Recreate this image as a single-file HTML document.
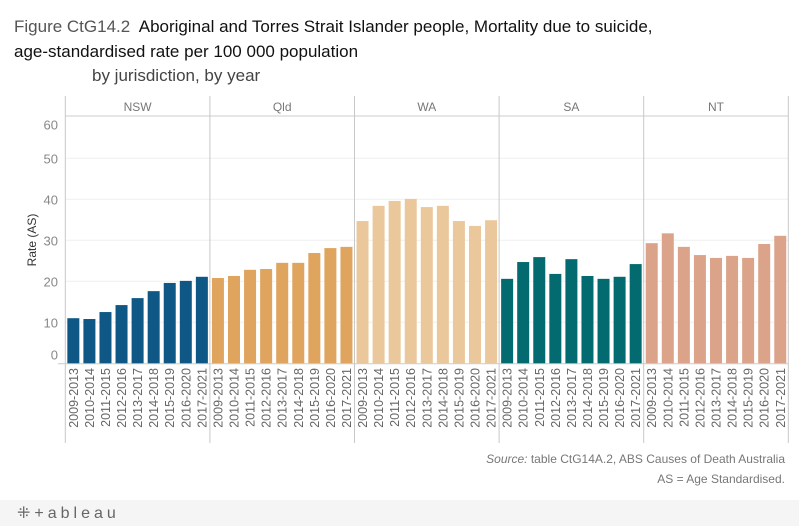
<!DOCTYPE html>
<html><head><meta charset="utf-8"><style>
body{margin:0;background:#fff;font-family:"Liberation Sans",sans-serif;}
#wrap{position:relative;width:799px;height:526px;overflow:hidden;}
.t{position:absolute;white-space:nowrap;}
</style></head><body>
<div id="wrap">
<div class="t" style="left:14px;top:17px;font-size:17px;color:#222;"><span style="color:#555">Figure CtG14.2</span>&nbsp; <span style="color:#111">Aboriginal and Torres Strait Islander people, Mortality due to suicide,</span></div>
<div class="t" style="left:14px;top:42px;font-size:17px;color:#111;">age-standardised rate per 100 000 population</div>
<div class="t" style="left:92px;top:66px;font-size:17px;color:#444;">by jurisdiction, by year</div>
<svg id="chart" width="799" height="526" style="position:absolute;left:0;top:0"></svg>
<div class="t" style="right:14px;top:452px;font-size:12px;color:#777;"><i>Source:</i> table CtG14A.2, ABS Causes of Death Australia</div>
<div class="t" style="right:14px;top:472px;font-size:12px;color:#777;">AS = Age Standardised.</div>
<div style="position:absolute;left:0;top:500px;width:799px;height:26px;background:#f5f5f5;"></div>
<div class="t" style="left:17px;top:503px;font-size:16px;color:#666;letter-spacing:4px;">⁜+ableau</div>
</div>
<script>
const jurisdictions=["NSW","Qld","WA","SA","NT"];
const years=["2009-2013","2010-2014","2011-2015","2012-2016","2013-2017","2014-2018","2015-2019","2016-2020","2017-2021"];
const nswValues=[11.0,10.8,12.5,14.2,15.9,17.6,19.6,20.1,21.1];
const qldValues=[20.8,21.3,22.8,23.0,24.5,24.5,26.9,28.1,28.4];
const waValues=[34.7,38.4,39.6,40.1,38.1,38.4,34.7,33.5,34.9];
const saValues=[20.6,24.7,25.9,21.8,25.4,21.3,20.6,21.1,24.2];
const ntValues=[29.3,31.7,28.4,26.4,25.7,26.2,25.7,29.1,31.1];
const yTicks=[0,10,20,30,40,50,60];
const colors=["#0f5886","#dfa45e","#ebc89c","#036b6f","#dba48a"];
const series=[nswValues,qldValues,waValues,saValues,ntValues];
const NS="http://www.w3.org/2000/svg";
const svg=document.getElementById('chart');
const X0=65.3,PW=144.6,Y0=363.3,TOP=116,BW=12;
const yS=v=>Y0-v*(Y0-117.3)/60;
const xS=(p,i)=>X0+p*PW+(i+0.5)*(PW/9);
function mk(t,a){const e=document.createElementNS(NS,t);for(const k in a)e.setAttribute(k,a[k]);svg.appendChild(e);return e;}
yTicks.forEach(v=>{
 const y=yS(v);
 if(v>0&&v<60){const g=mk('line',{x1:X0,x2:788,y1:y,y2:y,stroke:'#efefef','stroke-width':1});
 
 }
 const ly=v==60?y+12:(v==0?y-4:y+5);
 const t=mk('text',{x:58,y:ly,'text-anchor':'end','font-size':13,fill:'#888','font-family':'Liberation Sans'});
 t.textContent=v;
 
 
});
const yt=mk('text',{x:36,y:240,'text-anchor':'middle','font-size':12,fill:'#333',transform:'rotate(-90 36 240)','font-family':'Liberation Sans'});
yt.textContent='Rate (AS)';


const h1=mk('line',{x1:X0,x2:788,y1:TOP,y2:TOP,stroke:'#ccc'});


const bl=mk('line',{x1:58,x2:788,y1:Y0+0.5,y2:Y0+0.5,stroke:'#ccc'});


for(let p=0;p<=5;p++){
 const x=X0+p*PW;
 const l=mk('line',{x1:x,x2:x,y1:96,y2:443,stroke:'#c8c8c8'});
 
 
}
jurisdictions.forEach((j,p)=>{
 const h=mk('text',{x:X0+p*PW+PW/2,y:111,'text-anchor':'middle','font-size':12,fill:'#777','font-family':'Liberation Sans'});
 h.textContent=j;
 
 
 series[p].forEach((v,i)=>{
  const cx=xS(p,i);
  const r=mk('rect',{x:cx-BW/2,y:yS(v),width:BW,height:Y0-yS(v),fill:colors[p]});
  
  
  const t=mk('text',{x:0,y:0,'text-anchor':'end','font-size':12.5,fill:'#666','font-family':'Liberation Sans',transform:`translate(${cx+4.5},368) rotate(-90)`});
  t.textContent=years[i];
  
  
 });
});
</script>
</body></html>
